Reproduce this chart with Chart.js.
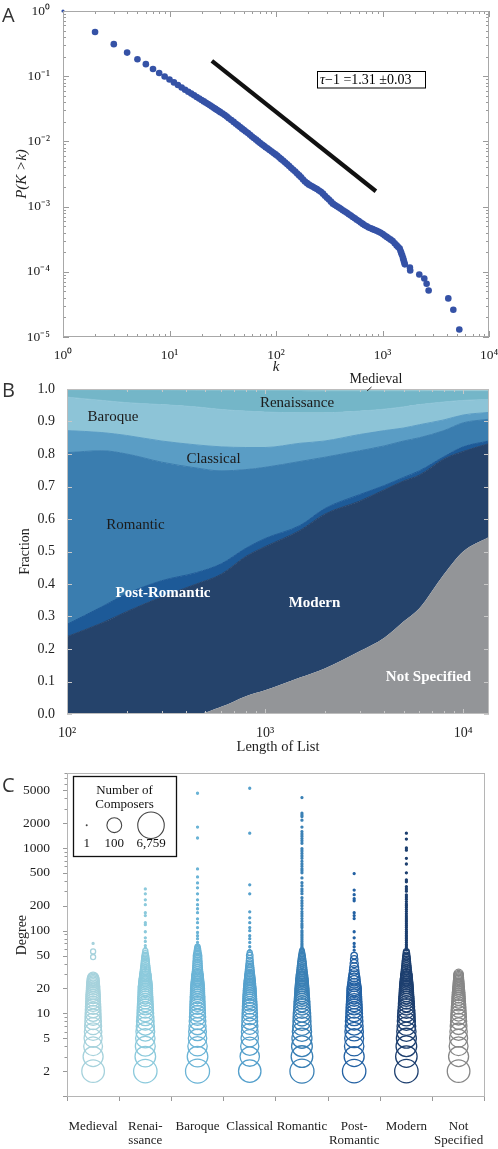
<!DOCTYPE html>
<html lang="en">
<head>
  <meta charset="UTF-8">
  <title>Composer network</title>
  <script src="https://cdn.jsdelivr.net/npm/chart.js"></script>
  <style>
    body { margin: 0; background: #fff; width: 498px; height: 1149px; position: relative; overflow: hidden; }
    canvas { position: absolute; left: 0; }
    #chartA { top: 0; }
    #chartB { top: 372px; }
    #chartC { top: 760px; }
  </style>
</head>
<body>
  <canvas id="chartA" width="498" height="380"></canvas>
  <canvas id="chartB" width="498" height="388"></canvas>
  <canvas id="chartC" width="498" height="389"></canvas>

<script>
// ---------- A: cumulative degree distribution ----------
const kA = [1,2,3,4,5,6,7,8,9,10,11,12,13,14,15,16,17,18,19,20,
  21,22,23,24,25,26,27,28,29,30,31.5,33,34.5,36,38,40,42,44,46,48,50,52,54.5,57,59.5,62,65,68,71,74,77,80,83.5,87,91,95,99,
  103,107.5,112,117,122,127.5,133,139,145,151.5,158,165,172,179.5,187,195.5,
  204,213,222,232,242,253,264,276,288,301,314,328,342,357.5,373,389.5,
  406,424.5,443,463,483,504.5,526,549.5,573,599,625,653,681,711.5,742,775.5,809,845.5,882,921.5,961,
  1004.5,1048,1095,1142,1193.5,1245,1301,1357,1403.5,1450,1475,1500,1530,1560,1580,1600,1620,
  1809,1820,2215,2468,2596,2711,4148,4624,5263];
const pA = [1,0.477,0.31,0.23,0.182,0.153,0.129,0.112,0.099,0.0889,0.0803,0.0731,0.0671,0.0620,0.0578,0.0541,0.0509,0.0480,0.0454,0.0431,
  0.0411,0.0391,0.0374,0.0358,0.0343,0.0328,0.0315,0.0303,0.0292,0.0281,0.0267,0.0254,0.0240,0.0227,0.0213,0.0199,0.0187,0.0176,0.0166,0.0157,0.0149,0.0142,0.0134,0.0126,0.0119,0.0113,0.01063,0.0100,0.00947,0.00896,0.00854,0.00814,0.00775,0.00738,0.00700,0.00665,0.00632,
  0.00601,0.00567,0.00534,0.00503,0.00473,0.00445,0.00418,0.00391,0.00367,0.00344,0.00322,0.00301,0.00281,0.00261,0.00242,0.00229,
  0.00217,0.00209,0.00201,0.00193,0.00186,0.00177,0.00169,0.00158,0.00147,0.00137,0.00128,0.00119,0.00111,0.00106,0.00101,0.000966,
  0.000923,0.000881,0.000841,0.000802,0.000765,0.000729,0.000694,0.000661,0.000630,0.000599,0.000570,0.000543,0.000517,0.000498,0.000479,0.000465,0.000451,0.000438,0.000425,0.000411,0.000398,
  0.000379,0.000360,0.000343,0.000326,0.000311,0.000296,0.000274,0.000254,0.000240,0.000227,0.000210,0.000195,0.000179,0.000162,0.000150,0.000140,0.000130,
  0.0001165,0.0001048,0.0000910,0.0000791,0.0000655,0.0000518,0.0000391,0.0000262,0.0000130];
const fitK = [25, 867];
const fitP = [0.172, 0.00172];
const kTicks = [1, 10, 100, 1000, 10000];
const pTicks = [1e-5, 1e-4, 1e-3, 1e-2, 1e-1, 1];

// ---------- B: composition by list length ----------
const listLength = [100,150,200,300,450,600,800,1000,1500,2000,3000,4000,5000,6000,8000,10000,13500];
const topNotSpecified = [0,0,0,0,0,0.022,0.055,0.073,0.112,0.14,0.193,0.235,0.285,0.325,0.43,0.5,0.545];
const topModern       = [0.238,0.28,0.315,0.36,0.40,0.43,0.485,0.515,0.565,0.615,0.655,0.69,0.717,0.735,0.785,0.808,0.832];
const topPostRomantic = [0.276,0.33,0.37,0.41,0.435,0.462,0.51,0.54,0.58,0.632,0.675,0.703,0.728,0.748,0.792,0.822,0.84];
const topRomantic     = [0.804,0.81,0.80,0.775,0.757,0.748,0.752,0.759,0.777,0.79,0.81,0.825,0.84,0.85,0.872,0.896,0.907];
const topClassical    = [0.872,0.866,0.857,0.84,0.828,0.822,0.82,0.82,0.833,0.84,0.86,0.872,0.88,0.89,0.905,0.92,0.928];
const topBaroque      = [0.975,0.965,0.958,0.952,0.945,0.937,0.932,0.929,0.927,0.927,0.932,0.938,0.945,0.952,0.96,0.965,0.968];
const topRenaissance  = [0.996,0.996,0.995,0.995,0.994,0.994,0.994,0.994,0.994,0.993,0.993,0.993,0.993,0.993,0.992,0.992,0.992];
const topMedieval     = [1,1,1,1,1,1,1,1,1,1,1,1,1,1,1,1,1];
const lengthTicks = [100, 1000, 10000];
const fractionTicks = [0,0.1,0.2,0.3,0.4,0.5,0.6,0.7,0.8,0.9,1.0];
const layerNames = ['Not Specified','Modern','Post-Romantic','Romantic','Classical','Baroque','Renaissance','Medieval'];
const layerTops = [topNotSpecified, topModern, topPostRomantic, topRomantic, topClassical, topBaroque, topRenaissance, topMedieval];
const layerColors = ['#939598','#25436b','#1d5a98','#3a7daf','#5a9dc5','#8dc4d7','#74b6c8','#9ccbd6'];

// ---------- C: degree by period ----------
const periods = ['Medieval','Renaissance','Baroque','Classical','Romantic','Post-Romantic','Modern','Not Specified'];
const periodTickText = ['Medieval',['Renai-','ssance'],'Baroque','Classical','Romantic',['Post-','Romantic'],'Modern',['Not','Specified']];
const degreeTicks = [2,5,10,20,50,100,200,500,1000,2000,5000];

const degMedieval = [2,3,4,5,6,7,8,9,10,11,12,13,14,15,16,17,18,19,20,21,22,23,24,25,26,27,48,56];
const nMedieval   = [1660,650,420,320,260,220,190,170,150,135,122,110,100,92,84,78,72,66,60,55,50,45,41,37,32,26,3,3];
const singlesMedieval = [70];

const degRenaissance = [2,3,4,5,6,7,8,9,10,11,12,13,14,15,16,17,18,19,20,21,22,23,24,25,26,27,28,29,30,32,34,36,38,40,42,44,46,48,50,53,57];
const nRenaissance   = [2200,800,620,520,420,340,280,235,200,175,155,138,125,114,105,97,91,88,85,75,66,58,51,45,40,36,32,29,26,21,17,14,12,10,9,8,7,6,5,4,3];
const singlesRenaissance = [62,66,74,82,97,118,125,152,165,206,236,279,320];

const degBaroque = [2,3,4,5,6,7,8,9,10,11,12,13,14,15,16,17,18,19,20,21,22,23,24,25,26,27,28,29,30,32,34,36,38,40,42,44,46,48,50,52,55,58,61,64];
const nBaroque   = [2750,800,520,370,290,235,195,170,150,135,122,112,104,97,91,86,82,78,75,66,58,52,46,41,37,33,30,27,25,21,18,16,14,13,12,11,10,10,10,8,6,5,4,3];
const singlesBaroque = [66,72,80,87,95,109,125,139,165,184,206,236,279,330,378,447,558,1320,1790,4590];

const degClassical = [2,3,4,5,6,7,8,9,10,11,12,13,14,15,16,17,18,19,20,21,22,23,24,25,26,27,28,29,30,32,34,36,38,40,43,46,50,54];
const nClassical   = [1550,520,340,250,200,170,150,135,125,110,98,88,80,72,65,59,53,48,42,38,34,31,28,25,22,20,18,16,15,13,11,9,8,7,6,5,5,3];
const singlesClassical = [58,64,72,80,87,100,109,125,143,169,279,358,1510,5280];

const degRomantic = [2,3,4,5,6,7,8,9,10,11,12,13,14,15,16,17,18,19,20,21,22,23,24,25,26,27,28,29,30,32,34,36,38,40,42,44,46,48,50,53,56,59];
const nRomantic   = [2750,1150,850,650,500,400,330,290,255,210,180,155,135,120,105,95,87,80,75,65,58,52,47,42,38,34,31,28,25,21,18,15,13,11,9,8,7,6,5,4,3,2];
const singlesRomantic = [61,64,67,70,74,78,82,86,90,95,100,109,115,121,130,140,150,160,170,185,200,215,230,250,280,300,320,350,380,434,
  500,530,560,600,640,690,750,800,860,920,980,1140,1220,1300,1390,1480,1580,1790,2170,2400,2500,2630,4070];

const degPostRomantic = [2,3,4,5,6,7,8,9,10,11,12,13,14,15,16,17,18,19,20,22,24,26,28,30,33,36,40,45,50];
const nPostRomantic   = [2200,650,520,450,380,320,270,230,200,175,155,138,124,112,103,96,90,87,85,60,45,34,26,20,15,12,9,7,5];
const singlesPostRomantic = [58,64,70,82,97,140,152,165,230,243,272,310,490];

const degModern = [2,3,4,5,6,7,8,9,10,11,12,13,14,15,16,17,18,19,20,21,22,23,24,25,26,27,28,29,30,32,34,36,38,40,42,44,46,48,50,53,56];
const nModern   = [2200,1100,820,640,500,400,330,285,250,210,180,155,135,120,106,96,88,81,75,66,58,52,47,42,38,34,31,28,25,21,18,15,13,11,10,9,8,7,6,5,4];
const singlesModern = [59,62,65,68,72,76,80,84,88,93,98,103,109,115,121,128,135,142,150,160,170,180,190,200,210,225,240,255,270,300,
  320,340,390,410,500,640,750,940,1000,1280,1510];

const degNotSpecified = [2,3,4,5,6,7,8,9,10,11,12,13,14,15,16,17,18,19,20,21,22,23,24,25,26,27,28,29,30];
const nNotSpecified   = [1660,650,430,315,250,200,165,140,125,105,90,78,68,60,53,47,41,36,32,29,26,24,22,20,18,17,16,15,14];
const singlesNotSpecified = [];

const periodDegrees = [degMedieval, degRenaissance, degBaroque, degClassical, degRomantic, degPostRomantic, degModern, degNotSpecified];
const periodCounts  = [nMedieval, nRenaissance, nBaroque, nClassical, nRomantic, nPostRomantic, nModern, nNotSpecified];
const periodSingles = [singlesMedieval, singlesRenaissance, singlesBaroque, singlesClassical, singlesRomantic, singlesPostRomantic, singlesModern, singlesNotSpecified];
const periodColors  = ['#a6d2dc','#8ccadc','#6bb4d6','#55a0cc','#3a80b5','#2361a3','#1d3f6f','#878787'];
const legendCounts = [1, 100, 6759];

// ---------- shared helpers ----------
const SERIF = '"Liberation Serif", "Times New Roman", serif';
Chart.defaults.font.family = SERIF;
Chart.defaults.color = '#222';
Chart.defaults.animation = false;
Chart.defaults.plugins.legend.display = false;
Chart.defaults.plugins.tooltip.enabled = false;

const SUP = { '0': '⁰', '1': '¹', '2': '²', '3': '³', '4': '⁴', '5': '⁵', '-': '⁻' };
function pow10(v) {
  const e = Math.round(Math.log10(v));
  return '10' + String(e).split('').map(c => SUP[c]).join('');
}

function ringRadius(n) {
  return 1 + 3.2 * Math.log10(n);
}

// all tick positions of a scale, minor ones included on log axes
function tickMarks(scale) {
  const out = [];
  const isLabelled = v => scale.ticks.some(t => Math.abs(t.value - v) < Math.abs(v) * 1e-6 + 1e-9);
  if (scale.type === 'logarithmic') {
    const lo = Math.floor(Math.log10(scale.min));
    const hi = Math.ceil(Math.log10(scale.max));
    for (let e = lo; e <= hi; e++) {
      for (let m = 1; m < 10; m++) {
        const v = m * Math.pow(10, e);
        if (v >= scale.min * 0.999 && v <= scale.max * 1.001) out.push({ v, major: m === 1 || isLabelled(v) });
      }
    }
  } else {
    scale.ticks.forEach(t => out.push({ v: t.value, major: true }));
  }
  return out;
}

const framePlugin = {
  id: 'frame',
  afterDatasetsDraw(chart, args, opts) {
    const { ctx, chartArea: a } = chart;
    const line = (x1, y1, x2, y2) => { ctx.beginPath(); ctx.moveTo(x1, y1); ctx.lineTo(x2, y2); ctx.stroke(); };
    ctx.save();
    ctx.lineWidth = 1;
    ctx.strokeStyle = opts.tickColor;
    if (opts.inner) {
      const sx = chart.scales.x, sy = chart.scales.y;
      tickMarks(sx).forEach(t => {
        const x = Math.round(sx.getPixelForValue(t.v)) + 0.5;
        const len = t.major ? opts.major : opts.minor;
        line(x, a.bottom, x, a.bottom - len);
        line(x, a.top, x, a.top + len);
      });
      tickMarks(sy).forEach(t => {
        const y = Math.round(sy.getPixelForValue(t.v)) + 0.5;
        const len = t.major ? opts.major : opts.minor;
        line(a.left, y, a.left + len, y);
        line(a.right, y, a.right - len, y);
      });
    }
    if (opts.outerY) {
      const sy = chart.scales.y;
      tickMarks(sy).forEach(t => {
        const y = Math.round(sy.getPixelForValue(t.v)) + 0.5;
        const len = t.major ? opts.major : opts.minor;
        line(a.left, y, a.left - len, y);
      });
    }
    ctx.strokeStyle = opts.boxColor;
    ctx.strokeRect(Math.round(a.left) + 0.5, Math.round(a.top) + 0.5,
      Math.round(a.right - a.left) - 1, Math.round(a.bottom - a.top) - 1);
    ctx.restore();
  }
};

function panelLetter(ctx, letter, y) {
  ctx.fillStyle = '#333';
  ctx.font = '20px "Open Sans", sans-serif';
  ctx.textAlign = 'left';
  ctx.textBaseline = 'alphabetic';
  ctx.fillText(letter, 2, y);
}

// ---------- chart A ----------
const notesA = {
  id: 'notesA',
  afterDraw(chart) {
    const ctx = chart.ctx;
    ctx.save();
    panelLetter(ctx, 'A', 22);
    ctx.fillStyle = '#fff';
    ctx.fillRect(317.5, 71.5, 108, 16.5);
    ctx.strokeStyle = '#000';
    ctx.lineWidth = 1;
    ctx.strokeRect(317.5, 71.5, 108, 16.5);
    ctx.fillStyle = '#000';
    ctx.font = 'italic 14px ' + SERIF;
    ctx.fillText('τ', 320, 84);
    const w = ctx.measureText('τ').width;
    ctx.font = '14px ' + SERIF;
    ctx.fillText('−1 =1.31 ±0.03', 320 + w, 84);
    ctx.restore();
  }
};

new Chart(document.getElementById('chartA'), {
  type: 'scatter',
  data: {
    datasets: [
      {
        data: kA.map((k, i) => ({ x: k, y: pA[i] })),
        pointRadius: c => c.dataIndex === 0 ? 1.6 : 3.3,
        pointBackgroundColor: '#3552a6',
        pointBorderWidth: 0,
        clip: 4
      },
      {
        type: 'line',
        data: fitK.map((k, i) => ({ x: k, y: fitP[i] })),
        borderColor: '#111',
        borderWidth: 4.2,
        pointRadius: 0,
        fill: false
      }
    ]
  },
  options: {
    responsive: false,
    devicePixelRatio: 1,
    layout: { padding: { top: 11, right: 9, left: 0, bottom: 0 } },
    scales: {
      x: {
        type: 'logarithmic', min: 1, max: 10000,
        grid: { display: false }, border: { display: false },
        afterBuildTicks: s => { s.ticks = kTicks.map(v => ({ value: v })); },
        afterFit: s => { s.height = 43; s.paddingLeft = 0; s.paddingRight = 0; },
        ticks: { callback: v => pow10(v), font: { size: 13.5 }, padding: 2, maxRotation: 0, autoSkip: false },
        title: { display: true, text: 'k', font: { size: 15, style: 'italic' }, padding: { top: 0, bottom: 4 } }
      },
      y: {
        type: 'logarithmic', min: 1e-5, max: 1,
        grid: { display: false }, border: { display: false },
        afterBuildTicks: s => { s.ticks = pTicks.map(v => ({ value: v })); },
        afterFit: s => { s.width = 63; s.paddingTop = 0; s.paddingBottom = 0; },
        ticks: { callback: v => pow10(v), font: { size: 13.5 }, padding: 5, autoSkip: false },
        title: { display: true, text: 'P(K >k)', font: { size: 15, style: 'italic' }, padding: { top: 13, bottom: 0 } }
      }
    },
    plugins: { frame: { inner: true, major: 6, minor: 3, tickColor: '#9a9a9a', boxColor: '#a8a8a8' } }
  },
  plugins: [framePlugin, notesA]
});

// ---------- chart B ----------
const notesB = {
  id: 'notesB',
  afterDraw(chart) {
    const ctx = chart.ctx;
    ctx.save();
    panelLetter(ctx, 'B', 25);
    ctx.textAlign = 'center';
    ctx.textBaseline = 'alphabetic';
    ctx.fillStyle = '#1b1b1b';
    ctx.font = '14px ' + SERIF;
    ctx.fillText('Medieval', 376, 10.7);
    ctx.strokeStyle = '#333';
    ctx.lineWidth = 1;
    ctx.beginPath(); ctx.moveTo(367, 19); ctx.lineTo(371.5, 15); ctx.stroke();
    ctx.font = '15px ' + SERIF;
    ctx.fillText('Renaissance', 297, 35);
    ctx.fillText('Baroque', 113, 48.7);
    ctx.fillText('Classical', 213.5, 90.7);
    ctx.fillText('Romantic', 135.5, 157.3);
    ctx.fillStyle = '#fff';
    ctx.font = 'bold 15px ' + SERIF;
    ctx.fillText('Post-Romantic', 163, 225);
    ctx.fillText('Modern', 314.5, 234.7);
    ctx.fillText('Not Specified', 428.5, 309);
    ctx.restore();
  }
};

new Chart(document.getElementById('chartB'), {
  type: 'line',
  data: {
    datasets: layerTops.map((tops, i) => ({
      label: layerNames[i],
      data: listLength.map((x, j) => ({ x, y: tops[j] })),
      fill: i === 0 ? 'origin' : '-1',
      backgroundColor: layerColors[i],
      borderColor: layerColors[i],
      borderWidth: i === 0 ? 0 : 1,
      pointRadius: 0,
      cubicInterpolationMode: 'monotone'
    }))
  },
  options: {
    responsive: false,
    devicePixelRatio: 1,
    layout: { padding: { top: 17, right: 9, left: 0, bottom: 0 } },
    scales: {
      x: {
        type: 'logarithmic', min: 100, max: 13500,
        grid: { display: false }, border: { display: false },
        afterBuildTicks: s => { s.ticks = lengthTicks.map(v => ({ value: v })); },
        afterFit: s => { s.height = 46; s.paddingLeft = 0; s.paddingRight = 0; },
        ticks: { callback: v => pow10(v), font: { size: 14 }, padding: 2.5, maxRotation: 0, autoSkip: false },
        title: { display: true, text: 'Length of List', font: { size: 14.5 }, padding: { top: 0, bottom: 4.5 } }
      },
      y: {
        type: 'linear', min: 0, max: 1,
        grid: { display: false }, border: { display: false },
        afterBuildTicks: s => { s.ticks = fractionTicks.map(v => ({ value: v })); },
        afterFit: s => { s.width = 67; s.paddingTop = 0; s.paddingBottom = 0; },
        ticks: { callback: v => v.toFixed(1), font: { size: 14 }, padding: 4, autoSkip: false },
        title: { display: true, text: 'Fraction', font: { size: 14 }, padding: { top: 17, bottom: 0 } }
      }
    },
    plugins: { frame: { inner: true, major: 5, minor: 3, tickColor: '#c8c8c8', boxColor: '#bdbdbd' } }
  },
  plugins: [framePlugin, notesB]
});

// ---------- chart C ----------
const notesC = {
  id: 'notesC',
  afterDraw(chart) {
    const ctx = chart.ctx;
    ctx.save();
    panelLetter(ctx, 'C', 31.7);
    ctx.fillStyle = '#fff';
    ctx.fillRect(73.5, 16.5, 103, 80);
    ctx.strokeStyle = '#111';
    ctx.lineWidth = 1.3;
    ctx.strokeRect(73.5, 16.5, 103, 80);
    ctx.fillStyle = '#111';
    ctx.font = '13px ' + SERIF;
    ctx.textAlign = 'center';
    ctx.textBaseline = 'alphabetic';
    ctx.fillText('Number of', 124.5, 34);
    ctx.fillText('Composers', 124.5, 47.7);
    const xs = [86.7, 114.3, 151];
    const names = ['1', '100', '6,759'];
    ctx.strokeStyle = '#444';
    ctx.lineWidth = 1.1;
    legendCounts.forEach((n, i) => {
      ctx.beginPath();
      ctx.arc(xs[i], 65.2, ringRadius(n), 0, Math.PI * 2);
      if (n === 1) { ctx.fillStyle = '#444'; ctx.fill(); } else { ctx.stroke(); }
      ctx.fillStyle = '#111';
      ctx.fillText(names[i], xs[i], 87);
    });
    ctx.restore();
  }
};

function ringPoints(period, degs, counts, singles) {
  const pts = degs.map((d, i) => ({ x: period, y: d, r: ringRadius(counts[i]) }));
  singles.forEach(d => pts.push({ x: period, y: d, r: ringRadius(1) }));
  return pts;
}

new Chart(document.getElementById('chartC'), {
  type: 'bubble',
  data: {
    labels: periods,
    datasets: periods.map((p, i) => ({
      label: p,
      data: ringPoints(p, periodDegrees[i], periodCounts[i], periodSingles[i]),
      borderColor: periodColors[i],
      backgroundColor: c => (c.raw && c.raw.r <= 1.01) ? periodColors[i] : 'rgba(0,0,0,0)',
      borderWidth: 1.3,
      hoverRadius: 0
    }))
  },
  options: {
    responsive: false,
    devicePixelRatio: 1,
    layout: { padding: { top: 12, right: 9, left: 0, bottom: 0 } },
    scales: {
      x: {
        type: 'category', offset: true,
        grid: { display: true, drawOnChartArea: false, drawTicks: true, tickLength: 4, color: '#999', offset: true },
        border: { display: false },
        afterFit: s => { s.height = 52; s.paddingLeft = 0; s.paddingRight = 0; },
        ticks: {
          callback: (v, i) => periodTickText[i],
          font: { size: 13, lineHeight: 1.03 }, padding: 19, maxRotation: 0, autoSkip: false
        }
      },
      y: {
        type: 'logarithmic', min: 0.973, max: 8000,
        grid: { display: false }, border: { display: false },
        afterBuildTicks: s => { s.ticks = degreeTicks.map(v => ({ value: v })); },
        afterFit: s => { s.width = 67; s.paddingTop = 0; s.paddingBottom = 0; },
        ticks: { callback: v => String(v), font: { size: 13.5 }, padding: 9, autoSkip: false },
        title: { display: true, text: 'Degree', font: { size: 14 }, padding: { top: 13.6, bottom: 0 } }
      }
    },
    plugins: { frame: { inner: false, outerY: true, major: 4, minor: 2.5, tickColor: '#999', boxColor: '#b5b5b5' } }
  },
  plugins: [framePlugin, notesC]
});
</script>
</body>
</html>
